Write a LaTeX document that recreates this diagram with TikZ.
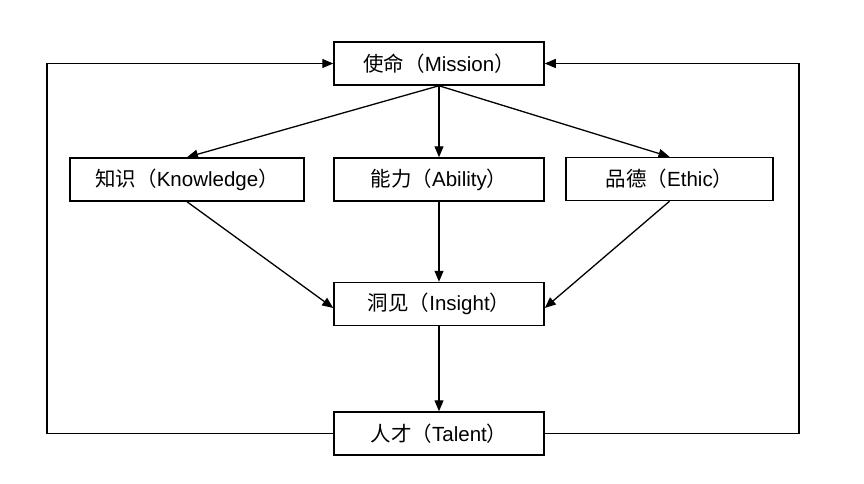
\documentclass[tikz,border=0pt]{standalone}
\usepackage{fontspec}
\setmainfont{Liberation Sans}
\newfontfamily\cjk{Noto Sans CJK SC}
\usetikzlibrary{arrows.meta}
\begin{document}
\begin{tikzpicture}[x=1pt,y=-1pt,
  box/.style={draw,line width=1.5pt,minimum height=43pt,inner sep=0pt,font=\fontsize{20.5}{22}\selectfont},
  conn/.style={line width=1.3pt,-{Triangle[length=11pt,width=9pt]}},
  plain/.style={line width=1.3pt}]
\useasboundingbox (0,0) rectangle (864,484);
\node[box,minimum width=210pt] (mis) at (439,63.5) {{\cjk 使命（}Mission{\cjk ）}};
\node[box,minimum width=234pt] (kno) at (187,179.5) {{\cjk 知识（}Knowledge{\cjk ）}};
\node[box,minimum width=210pt] (abi) at (439,179.5) {{\cjk 能力（}Ability{\cjk ）}};
\node[box,minimum width=207pt] (eth) at (669.5,179) {{\cjk 品德（}Ethic{\cjk ）}};
\node[box,minimum width=210pt] (ins) at (439,304) {{\cjk 洞见（}Insight{\cjk ）}};
\node[box,minimum width=210pt] (tal) at (439,433.5) {{\cjk 人才（}Talent{\cjk ）}};
\coordinate (lb) at (47,433.5);
\coordinate (lt) at (47,63.5);
\coordinate (rb) at (799,433.5);
\coordinate (rt) at (799,63.5);
\draw[conn] (mis.south) -- (kno.north);
\draw[conn] (mis.south) -- (abi.north);
\draw[conn] (mis.south) -- (eth.north);
\draw[conn] (kno.south) -- ([yshift=-4pt]ins.west);
\draw[conn] (abi.south) -- (ins.north);
\draw[conn] (eth.south) -- ([yshift=-4pt]ins.east);
\draw[conn] (ins.south) -- (tal.north);
\draw[conn] (tal.west) -- (lb) -- (lt) -- (mis.west);
\draw[conn] (tal.east) -- (rb) -- (rt) -- (mis.east);
\end{tikzpicture}
\end{document}
